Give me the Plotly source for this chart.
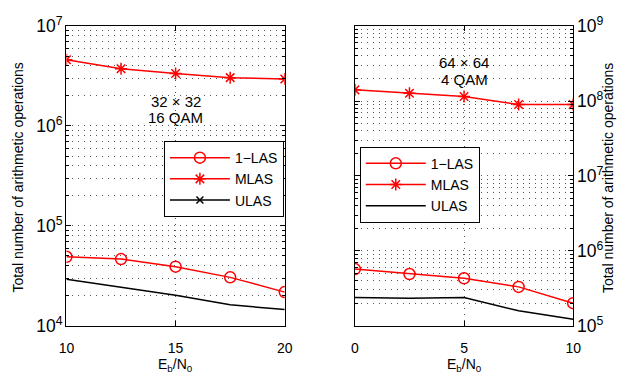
import plotly.graph_objects as go

# ---- data ----
left_x = [10, 12.5, 15, 17.5, 20]
left_1las = [4.9e4, 4.65e4, 3.9e4, 3.05e4, 2.17e4]
left_mlas = [4.6e6, 3.75e6, 3.35e6, 3.05e6, 2.95e6]
left_ulas = [2.92e4, 2.42e4, 2.02e4, 1.62e4, 1.45e4]

right_x = [0, 2.5, 5, 7.5, 10]
right_1las = [5.7e5, 4.9e5, 4.3e5, 3.3e5, 2.0e5]
right_mlas = [1.41e8, 1.27e8, 1.15e8, 9.0e7, 9.0e7]
right_ulas = [2.38e5, 2.32e5, 2.38e5, 1.58e5, 1.22e5]

names = ["1\u2212LAS", "MLAS", "ULAS"]
left_note = ["32 \u00d7 32", "16 QAM"]
right_note = ["64 \u00d7 64", "4 QAM"]
ytitle = "Total number of arithmetic operations"
xtitle = "E<sub>b</sub>/N<sub>0</sub>"

W, H = 626, 380
FONT = "Liberation Sans, Arial, sans-serif"
RED = "#ff0000"

fig = go.Figure()

def add_panel(x, y1, y2, y3, xa, ya, legend, ulas_marker):
    fig.add_trace(go.Scatter(x=x, y=y1, mode="lines+markers", name=names[0],
                             xaxis=xa, yaxis=ya, legend=legend,
                             line=dict(color=RED, width=1.5),
                             marker=dict(symbol="circle-open", size=11, color=RED,
                                         line=dict(width=1.5, color=RED))))
    fig.add_trace(go.Scatter(x=x, y=y2, mode="lines+markers", name=names[1],
                             xaxis=xa, yaxis=ya, legend=legend,
                             line=dict(color=RED, width=1.5),
                             marker=dict(symbol="asterisk-open", size=10, color=RED,
                                         line=dict(width=1.5, color=RED))))
    fig.add_trace(go.Scatter(x=x, y=y3, mode="lines", name=names[2],
                             xaxis=xa, yaxis=ya, showlegend=False,
                             line=dict(color="black", width=1.5)))
    # legend-only entry for ULAS
    fig.add_trace(go.Scatter(x=[None], y=[None],
                             mode="lines+markers" if ulas_marker else "lines",
                             name=names[2], xaxis=xa, yaxis=ya, legend=legend,
                             line=dict(color="black", width=1.5),
                             marker=dict(symbol="x-thin-open", size=7, color="black",
                                         line=dict(width=1.5, color="black"))))

add_panel(left_x, left_1las, left_mlas, left_ulas, "x", "y", "legend", True)
add_panel(right_x, right_1las, right_mlas, right_ulas, "x2", "y2", "legend2", False)

GRID = dict(color="#555555", dash="1px,5px", width=1)

def xaxis(domain, rng, anchor):
    return dict(domain=domain, range=rng, anchor=anchor, dtick=5,
                showline=True, linecolor="black", linewidth=1, mirror="ticks",
                ticks="inside", ticklen=5, tickcolor="black", ticklabelstandoff=9,
                showgrid=True, gridcolor=GRID["color"], griddash=GRID["dash"],
                gridwidth=1, zeroline=False,
                tickfont=dict(family=FONT, size=14, color="black"))

def yaxis(domain, rng, anchor, side):
    return dict(domain=domain, type="log", range=rng, anchor=anchor, side=side,
                dtick=1, exponentformat="power", showexponent="all",
                showline=True, linecolor="black", linewidth=1, mirror="ticks",
                ticks="inside", ticklen=5, tickcolor="black",
                showgrid=True, gridcolor=GRID["color"], griddash=GRID["dash"],
                gridwidth=1, zeroline=False,
                minor=dict(ticks="inside", ticklen=3, tickcolor="black",
                           showgrid=True, gridcolor=GRID["color"],
                           griddash=GRID["dash"], gridwidth=1),
                tickfont=dict(family=FONT, size=14, color="black"))

ydom = [1 - 333 / H, 1 - 15 / H]
lx = [60 / W, 284 / W]
rx = [356 / W, 580 / W]

legend_common = dict(bgcolor="white", bordercolor="black", borderwidth=1,
                     font=dict(family=FONT, size=14, color="black"),
                     xanchor="left", yanchor="top", itemwidth=60,
                     tracegroupgap=0)

fig.update_layout(
    width=W, height=H,
    margin=dict(l=0, r=0, t=0, b=0),
    paper_bgcolor="white", plot_bgcolor="white",
    font=dict(family=FONT, color="black"),
    xaxis=xaxis(lx, [10, 20], "y"),
    yaxis=yaxis(ydom, [4, 7], "x", "left"),
    xaxis2=xaxis(rx, [0, 10], "y2"),
    yaxis2=yaxis(ydom, [5, 9], "x2", "right"),
    legend=dict(x=160 / W, y=1 - 137 / H, **legend_common),
    legend2=dict(x=361 / W, y=1 - 143 / H, **legend_common),
)

ann_font = dict(family=FONT, size=15, color="black")
for txt, cy in zip(left_note, [95, 112]):
    fig.add_annotation(x=(lx[0] + lx[1]) / 2, y=1 - cy / H, xref="paper", yref="paper",
                       xanchor="center", yanchor="middle",
                       text=txt, showarrow=False, font=ann_font)
for txt, cy in zip(right_note, [54, 72]):
    fig.add_annotation(x=468 / W, y=1 - cy / H, xref="paper", yref="paper",
                       xanchor="center", yanchor="middle",
                       text=txt, showarrow=False, font=ann_font)

title_font = dict(family=FONT, size=14, color="black")
for cx in [(lx[0] + lx[1]) / 2, (rx[0] + rx[1]) / 2]:
    fig.add_annotation(x=cx, y=1 - 375 / H, xref="paper", yref="paper",
                       xanchor="center", yanchor="middle",
                       text=xtitle, showarrow=False,
                       font=dict(family=FONT, size=14, color="black"))
fig.add_annotation(x=10 / W, y=1 - 176 / H, xref="paper", yref="paper",
                   xanchor="center", yanchor="middle",
                   text=ytitle, textangle=-90, showarrow=False, font=title_font)
fig.add_annotation(x=616 / W, y=1 - 176 / H, xref="paper", yref="paper",
                   xanchor="center", yanchor="middle",
                   text=ytitle, textangle=-90, showarrow=False, font=title_font)

fig.write_html("out.html")
